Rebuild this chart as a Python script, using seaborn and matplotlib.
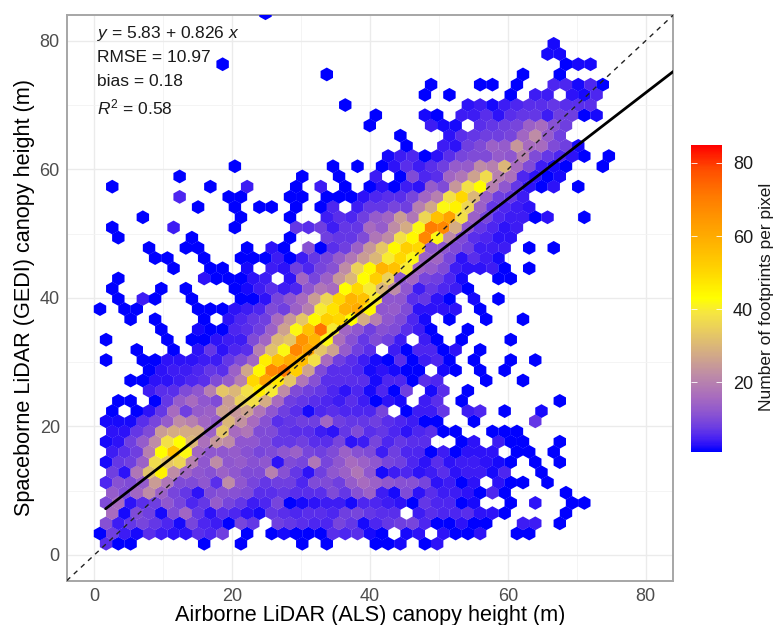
import numpy as np
import pandas as pd
import matplotlib
matplotlib.use("Agg")
import matplotlib.pyplot as plt
from matplotlib.colors import LinearSegmentedColormap, Normalize
from matplotlib.cm import ScalarMappable
import seaborn as sns

# footprint counts per hexagon, one list per hex row (bottom row = r00), index = column
r00 = [6,1,1,0,0,0,0,0,1,0,0,1,0,0,0,0,1,0,1,0,0,0,1,1,2,0,1,3]
r01 = [1,8,4,2,6,4,3,3,6,5,8,0,1,0,1,2,1,1,1,6,5,6,2,1,0,2,3,0,3,1,1,3,0,0,1,1]
r02 = [11,4,7,9,7,5,2,9,5,4,1,9,7,0,8,7,6,5,5,9,7,2,5,7,8,9,5,1,1,3,1,1,0,0,4,4,0,1]
r03 = [0,16,2,10,8,2,10,15,7,3,6,5,3,2,7,6,5,6,6,5,8,9,7,6,6,0,4,6,5,5,6,3,3,1,0,0,0,0,1]
r04 = [10,16,3,6,8,12,9,5,7,13,9,7,4,5,9,1,2,3,4,4,2,5,5,4,3,1,7,5,5,1,2,0,0,1,0,3,0,0,1,1]
r05 = [0,13,10,15,22,14,9,7,3,10,11,11,10,6,6,7,6,6,6,10,7,11,14,4,2,10,3,6,4,4,3,1,5,1,0,0,0,0,1]
r06 = [5,11,10,13,25,18,10,10,12,6,22,12,9,7,8,8,5,10,10,8,13,16,14,12,11,11,9,3,4,1,3,0,3,1,1,0,1]
r07 = [0,8,3,18,32,45,22,15,12,11,14,12,10,10,20,11,7,3,8,12,14,18,12,2,4,5,3,4,6,3,4,4,2,5,0,0,1]
r08 = [2,7,8,14,37,33,36,20,12,22,12,13,11,12,3,10,9,18,9,12,16,14,12,9,8,5,3,6,3,4,4,3,2,1,0,1,0,1]
r09 = [0,4,6,8,20,43,55,42,15,12,12,13,11,9,10,12,14,9,8,10,14,11,10,4,8,5,5,1,4,1,3,3,3,0,1,1,0,1]
r10 = [2,3,8,13,22,38,43,30,17,24,22,12,12,10,7,7,8,6,6,9,3,4,9,5,7,6,6,0,0,1,3,0,4,1,1,0,0,1]
r11 = [0,3,3,7,10,25,28,28,28,14,33,16,18,10,10,7,6,6,4,3,7,10,6,7,5,3,5,6,1,1,0,0,1,1,1]
r12 = [2,2,2,6,9,13,22,20,15,13,30,23,16,11,6,7,8,8,15,8,7,7,8,6,5,4,1,1,0,0,1,0,0,0,0,7]
r13 = [0,1,0,1,3,7,16,8,13,14,26,24,26,18,12,8,6,2,5,6,5,5,5,9,0,1,4,4,7,0,4,5,0,1,0,0,2]
r14 = [0,1,1,0,1,7,13,16,12,10,25,35,38,28,16,8,7,6,5,4,6,4,1,3,2,0,4,6,0,1,0,0,0,0,0,0,0,1]
r15 = [0,0,0,0,4,6,6,10,12,20,33,30,38,46,40,22,10,8,7,5,3,5,2,5,1,8,0,2,6,0,1]
r16 = [0,0,1,1,3,3,4,5,6,10,13,20,50,62,47,33,18,11,6,6,6,6,2,5,5,1,6,5,0,0,0,1,0,0,1]
r17 = [0,0,0,0,1,3,4,4,5,7,6,14,27,44,68,70,52,26,10,6,6,5,2,3,2,1,1,0,2,1,0,1,0,1]
r18 = [1,0,0,1,1,3,3,3,4,4,7,10,15,46,55,60,56,38,16,8,6,4,2,1,6,1,4,5,1,0,1,0,0,1,0,1]
r19 = [0,0,0,1,0,0,1,0,3,7,3,5,6,20,32,42,68,62,33,26,13,8,6,0,4,1,5,5,1,3,0,1]
r20 = [1,0,0,0,0,1,0,1,1,3,4,4,10,15,30,33,65,58,42,17,11,7,10,8,4,0,4,1,0,1,0,0,0,1]
r21 = [0,0,0,0,0,1,0,0,2,1,1,5,6,8,14,26,42,55,72,40,15,12,8,11,10,6,4,1,0,0,1]
r22 = [0,0,1,0,1,0,0,0,1,0,3,5,7,8,16,24,33,44,52,50,43,28,20,12,10,5,2,0,1,0,0,1,0,0,1]
r23 = [1,0,1,1,0,0,0,0,1,1,1,3,4,5,10,8,14,20,40,48,58,60,44,12,13,10,3,3,3,3,0,1]
r24 = [0,1,0,4,1,0,0,1,0,0,0,1,1,3,9,12,16,25,36,50,58,55,40,12,12,6,7,3,1,0,2,0,1]
r25 = [0,1,0,0,0,1,0,1,0,0,0,1,2,4,6,4,5,12,18,16,43,50,40,30,22,12,4,7,5,4,1]
r26 = [0,1,0,0,0,0,0,0,3,1,1,1,3,4,0,3,15,9,14,24,30,43,52,35,12,15,9,8,5,2,0,0,1,1]
r27 = [0,0,0,0,0,0,1,0,0,1,1,0,2,0,4,3,8,5,9,11,22,35,44,58,55,40,15,13,10,4,3,3,4,1,0,1]
r28 = [0,0,0,0,1,1,0,0,1,0,0,1,1,1,4,1,4,7,9,13,18,25,30,40,50,42,14,15,9,3,6,4,2]
r29 = [0,0,0,0,1,0,0,1,1,0,0,0,1,0,3,1,0,11,1,6,8,14,24,33,44,52,50,12,12,10,8,4,4,4,0,1,0,1]
r30 = [0,1,0,0,0,0,0,1,0,0,0,0,0,0,0,1,0,0,8,7,7,10,18,22,38,44,68,42,22,10,6,5,3,3]
r31 = [0,1,0,0,0,0,4,0,0,0,0,1,0,0,0,0,7,6,8,4,7,7,16,13,22,28,42,70,68,28,12,7,5,3,4]
r32 = [0,0,0,1,0,0,0,0,0,0,0,1,0,0,0,1,0,0,4,6,5,8,13,15,25,18,36,55,62,38,14,9,5,4,4,1,3,0,0,1]
r33 = [0,0,0,0,0,0,0,0,1,0,0,1,0,1,1,0,1,0,1,5,0,4,7,7,9,8,20,27,42,45,36,14,7,5,4,3]
r34 = [0,0,0,0,0,0,5,0,0,0,1,1,0,0,0,1,1,0,1,1,1,3,5,6,6,9,15,20,38,50,30,14,8,7,4]
r35 = [0,1,0,0,0,0,0,0,0,1,0,0,4,0,0,0,1,0,4,0,1,0,1,3,1,4,3,13,10,24,38,43,20,12,7,3,1,3,0,1]
r36 = [0,0,0,0,0,0,1,0,0,0,0,0,0,0,0,0,1,0,0,1,0,0,4,0,1,10,5,6,15,18,26,37,20,17,5,3,1,2]
r37 = [0,0,0,0,0,0,0,0,0,0,0,1,0,0,0,0,0,0,0,1,0,1,0,1,3,6,4,6,8,13,13,22,20,30,16,10,4,2,1,0,0,1]
r38 = [0]*23 + [2,4,5,1,3,6,9,10,10,13,12,20,10,7,5,3,1,0,1]
r39 = [0]*25 + [1,0,0,4,3,8,10,14,13,24,16,16,10,8,2]
r40 = [0]*24 + [1,0,0,0,3,6,7,8,8,9,15,22,13,8]
r41 = [0]*22 + [1,0,0,0,0,4,2,2,0,6,7,8,9,14,16,11,8]
r42 = [0]*22 + [1,0,0,0,2,1,0,4,4,6,3,6,7,7,4,8,8,1,2]
r43 = [0]*20 + [1] + [0]*9 + [3,4,2,4,5,6,6,7,6,6,6]
r44 = [0]*26 + [1,0,1,0,0,0,0,1,0,4,4,0,3,2,5]
r45 = [0]*27 + [1,0,0,0,1,1,0,1,0,0,5,5,2,5,1]
r46 = [0]*18 + [1] + [0]*15 + [1,0,0,1]
r47 = [0]*10 + [1] + [0]*27 + [1,2,2]
r48 = [0]*36 + [2,2]
r49 = [0]*37 + [2]
r50 = []
r51 = []
r52 = [0]*13 + [1]
rows = [r00,r01,r02,r03,r04,r05,r06,r07,r08,r09,r10,r11,r12,r13,r14,r15,r16,r17,r18,r19,
        r20,r21,r22,r23,r24,r25,r26,r27,r28,r29,r30,r31,r32,r33,r34,r35,r36,r37,r38,r39,
        r40,r41,r42,r43,r44,r45,r46,r47,r48,r49,r50,r51,r52]

slope = 0.826
intercept = 5.83
fit_x = [1.65, 84]
one_x = [-4, 84]
ticks = [0, 20, 40, 60, 80]
cbar_ticks = [20, 40, 60, 80]

# hex lattice, odd rows are shifted half a cell
hx = []
hy = []
hn = []
for i, row in enumerate(rows):
    for k, n in enumerate(row):
        if n > 0:
            hx.append((1.71 if i % 2 == 0 else 0.83) + 1.779 * k)
            hy.append(1.75 + 1.587 * i)
            hn.append(n)
df = pd.DataFrame({"x": hx, "y": hy, "n": hn})

sns.set_theme(style="whitegrid")
plt.rcParams['font.family'] = ['Liberation Sans', 'DejaVu Sans']
plt.rcParams['mathtext.fontset'] = 'custom'
plt.rcParams['mathtext.rm'] = 'Liberation Sans'
plt.rcParams['mathtext.it'] = 'Liberation Sans:italic'

stops = [(1, '#0000FF'), (3, '#2E12F8'), (5, '#4E26F0'), (8, '#7040E0'), (12, '#9058CE'), (16, '#A86CBE'),
         (22, '#BE8CA6'), (28, '#D4AC84'), (34, '#E8CC60'), (39, '#F6E640'), (43, '#FFFF00'), (50, '#FFD800'),
         (57, '#FFB800'), (64, '#FF9A00'), (71, '#FF7A00'), (78, '#FF5000'), (85, '#FF0000')]
cmap = LinearSegmentedColormap.from_list('foot', [((v - 1) / 84, c) for v, c in stops])

W, H = 777, 625
fig = plt.figure(figsize=(7.77, 6.25), dpi=100)
ax = fig.add_axes([66.7 / W, 1 - 580.7 / H, (673.3 - 66.7) / W, (580.7 - 15) / H])

# pointy-top hexagon a bit flatter than regular, so the rows close up
hex_marker = [(0, 6.815), (6.13, 3.41), (6.13, -3.41), (0, -6.815), (-6.13, -3.41), (-6.13, 3.41)]
sns.scatterplot(data=df, x="x", y="y", hue="n", hue_norm=(1, 85), palette=cmap, marker=hex_marker,
                s=99, linewidth=0, legend=False, ax=ax, zorder=3)
fit_y = [intercept + slope * v for v in fit_x]
sns.lineplot(x=fit_x, y=fit_y, color='black', lw=2, ax=ax, zorder=5)
ax.plot(one_x, one_x, color='#222222', lw=1, ls=(0, (3.5, 3.5)), zorder=4)

ax.set_xlim(-4, 84)
ax.set_ylim(-4, 84)
ax.set_xticks(ticks)
ax.set_yticks(ticks)
ax.set_xticks([10, 30, 50, 70], minor=True)
ax.set_yticks([10, 30, 50, 70], minor=True)
ax.grid(True, which='major', color='#EBEBEB', lw=1)
ax.grid(True, which='minor', color='#F3F3F3', lw=0.6)
ax.set_axisbelow(True)
ax.tick_params(which='major', length=3, width=0.8, color='#AAAAAA', labelsize=13, labelcolor='#4D4D4D', pad=2)
ax.tick_params(which='minor', length=0)
for s in ax.spines.values():
    s.set_color('#A6A6A6')
    s.set_linewidth(1.4)
ax.set_xlabel('Airborne LiDAR (ALS) canopy height (m)', fontsize=15.6, color='black', labelpad=0)
ax.set_ylabel('Spaceborne LiDAR (GEDI) canopy height (m)', fontsize=15.6, color='black', labelpad=3)

tx = 0.4
ax.text(tx, 81.1, r'$y$ = 5.83 + 0.826 $x$', fontsize=12.5, va='center', color='#1A1A1A', zorder=6)
ax.text(tx, 77.4, 'RMSE = 10.97', fontsize=12.5, va='center', color='#1A1A1A', zorder=6)
ax.text(tx, 73.7, 'bias = 0.18', fontsize=12.5, va='center', color='#1A1A1A', zorder=6)
ax.text(tx, 69.6, r'$R^2$ = 0.58', fontsize=12.5, va='center', color='#1A1A1A', zorder=6)

cax = fig.add_axes([691 / W, 1 - 451.7 / H, 31 / W, (451.7 - 144.7) / H])
sm = ScalarMappable(norm=Normalize(1, 85), cmap=cmap)
cb = fig.colorbar(sm, cax=cax)
cb.set_ticks(cbar_ticks)
cb.outline.set_visible(False)
cb.ax.tick_params(length=0, labelsize=13, labelcolor='#1A1A1A', pad=8)
cax.set_xlim(0, 1)
for v in cbar_ticks:
    cax.hlines(v, 0, 0.2, color='white', lw=0.6)
    cax.hlines(v, 0.8, 1, color='white', lw=0.6)
fig.text(766 / W, 1 - 297 / H, 'Number of footprints per pixel', fontsize=12.5, rotation=90,
         ha='center', va='center', color='#1A1A1A')

fig.savefig('out.png', dpi=100)
